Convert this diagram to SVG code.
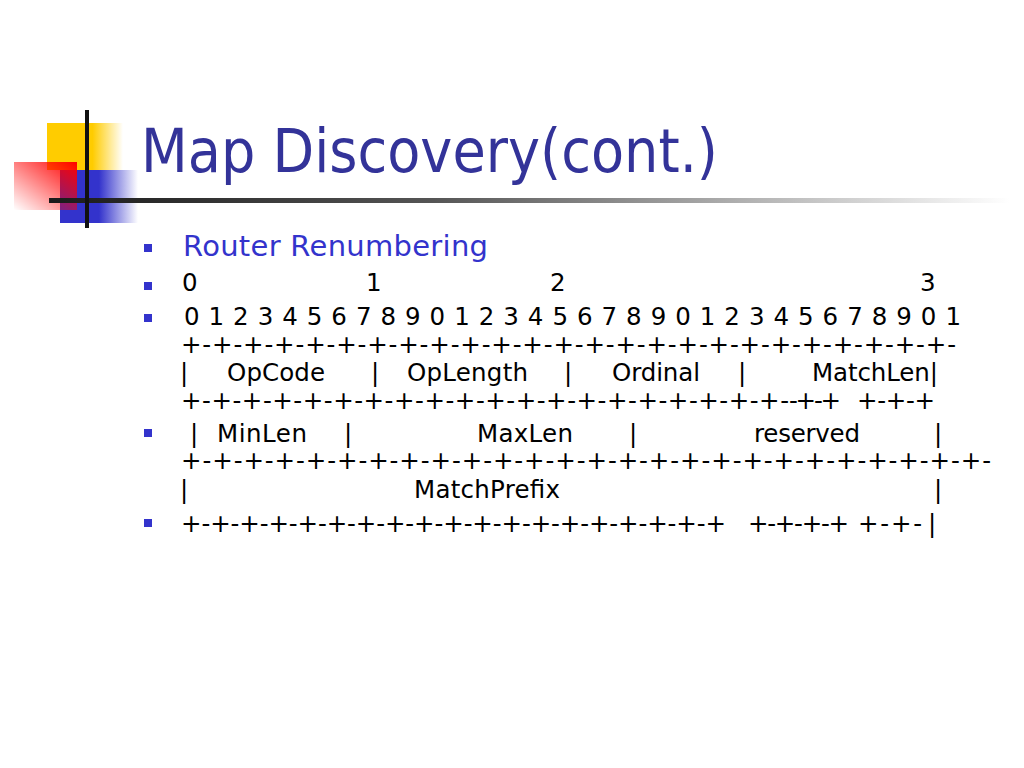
<svg xmlns="http://www.w3.org/2000/svg" width="1024" height="768" viewBox="0 0 1024 768">
<defs>
<linearGradient id="gYellow" x1="0" y1="0" x2="1" y2="0">
<stop offset="0" stop-color="#FFCC00"/><stop offset="0.6" stop-color="#FFCC00"/><stop offset="1" stop-color="#FFCC00" stop-opacity="0"/>
</linearGradient>
<linearGradient id="gBlue" x1="0" y1="0" x2="1" y2="0">
<stop offset="0" stop-color="#3333CC"/><stop offset="0.5" stop-color="#3333CC"/><stop offset="1" stop-color="#3333CC" stop-opacity="0"/>
</linearGradient>
<linearGradient id="gRed" x1="1" y1="0" x2="0" y2="1">
<stop offset="0" stop-color="#FF0000"/><stop offset="1" stop-color="#FF0000" stop-opacity="0"/>
</linearGradient>
<linearGradient id="gBar" x1="0" y1="0" x2="1" y2="0">
<stop offset="0" stop-color="#1a1a1a"/><stop offset="0.4" stop-color="#555555"/><stop offset="1" stop-color="#ffffff"/>
</linearGradient>
<style>
.t{font-family:"DejaVu Sans","Liberation Sans",sans-serif;font-size:24.5px;fill:#000}
.b{fill:#3333CC}
</style>
</defs>
<rect width="1024" height="768" fill="#fff"/>
<g id="logo">
<rect x="47" y="123" width="76" height="47" fill="url(#gYellow)"/>
<rect x="60" y="170" width="78" height="53" fill="url(#gBlue)"/>
<rect x="14" y="162" width="63" height="48" fill="url(#gRed)"/>
<rect x="49" y="198" width="961" height="5" fill="url(#gBar)"/>
<rect x="85" y="110" width="4" height="118" fill="#111"/>
</g>
<g id="title">
<text x="141" y="172" font-family="DejaVu Sans, Liberation Sans, sans-serif" font-size="60" fill="#333399" textLength="577" lengthAdjust="spacingAndGlyphs">Map Discovery(cont.)</text>
</g>
<g id="bullets">
<rect class="b" x="144" y="244" width="8" height="8"/>
<rect class="b" x="144" y="282" width="8" height="8"/>
<rect class="b" x="144" y="314" width="8" height="8"/>
<rect class="b" x="144" y="429" width="8" height="8"/>
<rect class="b" x="144" y="519" width="8" height="8"/>
</g>
<g id="heading">
<text x="183" y="256" font-family="DejaVu Sans, Liberation Sans, sans-serif" font-size="29" fill="#3333CC" textLength="305">Router Renumbering</text>
</g>
<g id="body">
<text class="t" x="182" y="291">0</text>
<text class="t" x="366" y="291">1</text>
<text class="t" x="550" y="291">2</text>
<text class="t" x="920" y="291">3</text>
<text class="t" x="184" y="325" textLength="777">0 1 2 3 4 5 6 7 8 9 0 1 2 3 4 5 6 7 8 9 0 1 2 3 4 5 6 7 8 9 0 1</text>
<text class="t" x="181" y="353" textLength="775">+-+-+-+-+-+-+-+-+-+-+-+-+-+-+-+-+-+-+-+-+-+-+-+-+-</text>
<text class="t" x="180" y="381">|</text>
<text class="t" x="227" y="381" textLength="98">OpCode</text>
<text class="t" x="371" y="381">|</text>
<text class="t" x="407" y="381" textLength="121">OpLength</text>
<text class="t" x="564" y="381">|</text>
<text class="t" x="612" y="381" textLength="88">Ordinal</text>
<text class="t" x="738" y="381">|</text>
<text class="t" x="812" y="381" textLength="126">MatchLen|</text>
<text class="t" x="181" y="409" textLength="608">+-+-+-+-+-+-+-+-+-+-+-+-+-+-+-+-+-+-+-+-</text>
<text class="t" x="789" y="409" textLength="52">-+-+</text>
<text class="t" x="857" y="409" textLength="78">+-+-+</text>
<text class="t" x="190" y="442">|</text>
<text class="t" x="217" y="442" textLength="90">MinLen</text>
<text class="t" x="344" y="442">|</text>
<text class="t" x="477" y="442" textLength="96">MaxLen</text>
<text class="t" x="629" y="442">|</text>
<text class="t" x="754" y="442" textLength="106">reserved</text>
<text class="t" x="934" y="442">|</text>
<text class="t" x="181" y="469" textLength="810">+-+-+-+-+-+-+-+-+-+-+-+-+-+-+-+-+-+-+-+-+-+-+-+-+-+-</text>
<text class="t" x="180" y="498">|</text>
<text class="t" x="414" y="498" textLength="146">MatchPrefix</text>
<text class="t" x="934" y="498">|</text>
<text class="t" x="181" y="532" textLength="545">+-+-+-+-+-+-+-+-+-+-+-+-+-+-+-+-+-+-+</text>
<text class="t" x="748" y="532" textLength="101">+-+-+-+</text>
<text class="t" x="858" y="532" textLength="64">+-+-</text>
<text class="t" x="928" y="532">|</text>
</g>
</svg>
